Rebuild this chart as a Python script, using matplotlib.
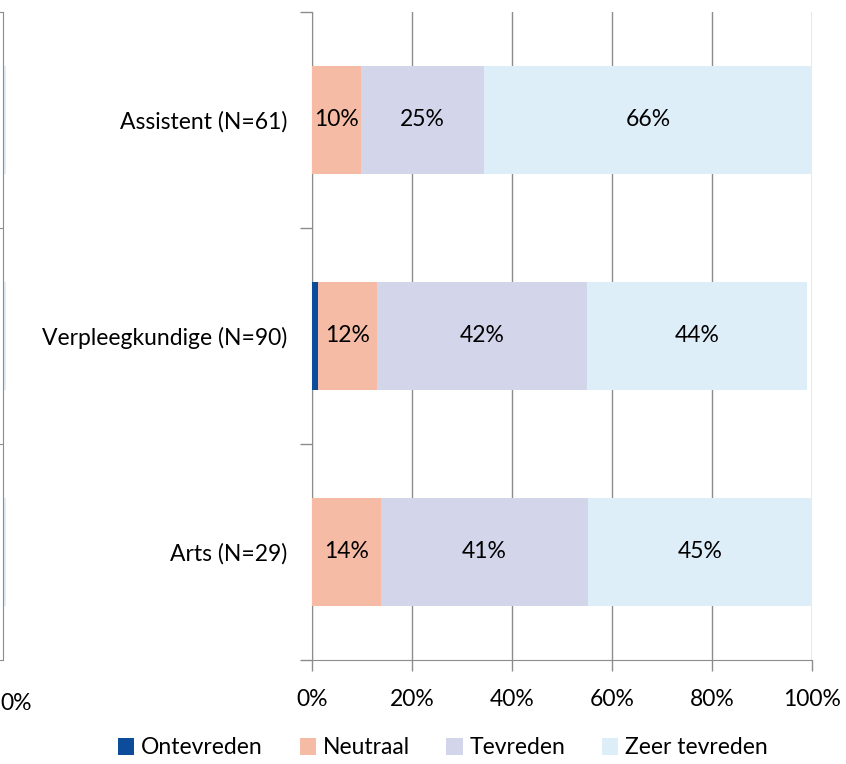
import matplotlib.pyplot as plt
import numpy as np

plt.rcParams['font.family'] = ['Lato', 'DejaVu Sans']

categories = ['Arts (N=29)', 'Verpleegkundige (N=90)', 'Assistent (N=61)']
series = ['Ontevreden', 'Neutraal', 'Tevreden', 'Zeer tevreden']
ontevreden = [0.0, 1.1, 0.0]
neutraal = [13.8, 11.9, 9.8]
tevreden = [41.4, 42.0, 24.6]
zeer_tevreden = [44.8, 44.0, 65.6]
colors = ['#0D4C9B', '#F6BBA4', '#D3D5EB', '#DEEEF9']
show_label = [False, True, True, True]

values = [ontevreden, neutraal, tevreden, zeer_tevreden]
gridc = '#8C8C8C'
fs = 16.5

W, H = 846, 764
fig = plt.figure(figsize=(W / 100, H / 100), dpi=100)
ax = fig.add_axes([312 / W, 1 - 660 / H, 500 / W, 648 / H])

y = np.arange(len(categories))
left = np.zeros(len(categories))
for name, vals, col, lab in zip(series, values, colors, show_label):
    vals = np.array(vals)
    bars = ax.barh(y, vals, left=left, height=0.5, color=col, label=name, zorder=3)
    if lab:
        for b, v in zip(bars, vals):
            if v > 0:
                ax.text(b.get_x() + b.get_width() / 2, b.get_y() + b.get_height() / 2,
                        f'{v:.0f}%', ha='center', va='center', fontsize=fs, zorder=4)
    left += vals

ax.set_xlim(0, 100)
ax.set_ylim(-0.5, len(categories) - 0.5)
ax.set_xticks(np.arange(0, 101, 20))
ax.set_xticklabels([f'{t}%' for t in range(0, 101, 20)], fontsize=fs)
ax.set_yticks(y)
ax.set_yticklabels(categories, fontsize=fs)
ax.set_yticks(np.arange(-0.5, len(categories), 1), minor=True)
ax.tick_params(axis='y', which='major', length=0, pad=18)
ax.tick_params(axis='y', which='minor', length=9, color=gridc, width=1)
ax.tick_params(axis='x', length=8, color=gridc, width=1, pad=13)
ax.grid(axis='x', color=gridc, linewidth=1, zorder=0)
for s in ['top', 'right']:
    ax.spines[s].set_visible(False)
for s in ['left', 'bottom']:
    ax.spines[s].set_color(gridc)

# cut-off neighbouring chart at the far left
ax0 = fig.add_axes([3 / W, 1 - 660 / H, 3 / W, 648 / H])
ax0.barh(y, zeer_tevreden, height=0.5, color=colors[3])
ax0.set_xlim(0, 1)
ax0.set_ylim(-0.5, len(categories) - 0.5)
ax0.set_xticks([])
ax0.set_yticks(np.arange(-0.5, len(categories), 1))
ax0.set_yticklabels([])
ax0.tick_params(axis='y', length=4, color=gridc)
for s in ['top', 'right', 'bottom']:
    ax0.spines[s].set_visible(False)
ax0.spines['left'].set_color(gridc)
fig.text(0, 1 - 703 / H, '0%', fontsize=fs, va='center', ha='left')

fig.legend(loc='center', bbox_to_anchor=(443 / W, 1 - 748 / H), ncol=4, frameon=False,
           fontsize=fs, handlelength=0.7, handleheight=0.7, handletextpad=0.3, columnspacing=1.6)

fig.savefig('out.png', dpi=100)
